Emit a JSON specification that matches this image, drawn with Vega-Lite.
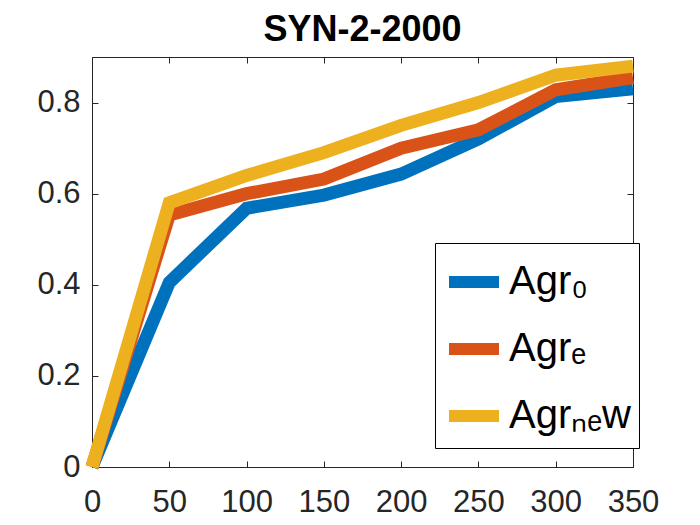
{
  "$schema": "https://vega.github.io/schema/vega-lite/v6.json",
  "width": 541,
  "height": 410,
  "autosize": {"type": "none"},
  "padding": {"left": 92, "top": 57, "right": 67, "bottom": 58},
  "background": "white",
  "title": {"text": "SYN-2-2000", "font": "Liberation Sans", "fontSize": 36, "fontWeight": "bold", "color": "black", "offset": -9},
  "config": {
    "view": {"stroke": null},
    "axis": {"labelFont": "Liberation Sans", "labelFontSize": 31, "labelColor": "#262626", "domainColor": "#262626", "tickColor": "#262626", "grid": false, "title": null, "domainWidth": 1, "tickWidth": 1}
  },
  "data": {"values": [
    {"n": 0, "v": 0, "s": "Agr0"}, {"n": 50, "v": 0.405, "s": "Agr0"}, {"n": 100, "v": 0.568, "s": "Agr0"}, {"n": 150, "v": 0.597, "s": "Agr0"}, {"n": 200, "v": 0.643, "s": "Agr0"}, {"n": 250, "v": 0.72, "s": "Agr0"}, {"n": 300, "v": 0.813, "s": "Agr0"}, {"n": 350, "v": 0.83, "s": "Agr0"},
    {"n": 0, "v": 0, "s": "Agre"}, {"n": 50, "v": 0.553, "s": "Agre"}, {"n": 100, "v": 0.6, "s": "Agre"}, {"n": 150, "v": 0.632, "s": "Agre"}, {"n": 200, "v": 0.70, "s": "Agre"}, {"n": 250, "v": 0.74, "s": "Agre"}, {"n": 300, "v": 0.828, "s": "Agre"}, {"n": 350, "v": 0.855, "s": "Agre"},
    {"n": 0, "v": 0, "s": "Agrnew"}, {"n": 50, "v": 0.58, "s": "Agrnew"}, {"n": 100, "v": 0.64, "s": "Agrnew"}, {"n": 150, "v": 0.69, "s": "Agrnew"}, {"n": 200, "v": 0.75, "s": "Agrnew"}, {"n": 250, "v": 0.80, "s": "Agrnew"}, {"n": 300, "v": 0.86, "s": "Agrnew"}, {"n": 350, "v": 0.88, "s": "Agrnew"}
  ]},
  "layer": [
    {
      "mark": {"type": "line", "strokeWidth": 13, "clip": false},
      "encoding": {
        "x": {"field": "n", "type": "quantitative", "scale": {"domain": [0, 350], "nice": false, "zero": false},
          "axis": {"orient": "bottom", "values": [0, 50, 100, 150, 200, 250, 300, 350], "tickSize": -6, "labelPadding": 26, "labelFlush": false}},
        "y": {"field": "v", "type": "quantitative", "scale": {"domain": [0, 0.9], "nice": false},
          "axis": {"orient": "left", "values": [0, 0.2, 0.4, 0.6, 0.8], "tickSize": -6, "labelPadding": 18, "labelExpr": "datum.value == 0 ? '0' : format(datum.value, '.1f')"}},
        "color": {"field": "s", "type": "nominal",
          "scale": {"domain": ["Agr0", "Agre", "Agrnew"], "range": ["#0072BD", "#D95319", "#EDB120"]},
          "legend": {"orient": "none", "legendX": 343, "legendY": 186, "title": null,
            "labelExpr": "datum.value == 'Agr0' ? 'Agr₀' : datum.value == 'Agre' ? 'Agrₑ' : 'Agrₙₑw'",
            "symbolType": "stroke", "symbolSize": 2500, "symbolStrokeWidth": 12,
            "labelFont": "Liberation Sans", "labelFontSize": 40, "labelColor": "black", "labelLimit": 300, "labelOffset": 4,
            "rowPadding": 12, "padding": 8, "strokeColor": "black", "fillColor": "white"}}
      }
    },
    {
      "mark": {"type": "line", "opacity": 0},
      "encoding": {
        "x": {"field": "n", "type": "quantitative", "axis": {"orient": "top", "values": [0, 50, 100, 150, 200, 250, 300, 350], "labels": false, "tickSize": -6, "minExtent": 0, "maxExtent": 0}},
        "y": {"field": "v", "type": "quantitative", "axis": {"orient": "right", "values": [0, 0.2, 0.4, 0.6, 0.8], "labels": false, "tickSize": -6, "minExtent": 0, "maxExtent": 0}},
        "detail": {"field": "s"}
      }
    }
  ],
  "resolve": {"axis": {"x": "independent", "y": "independent"}}
}
